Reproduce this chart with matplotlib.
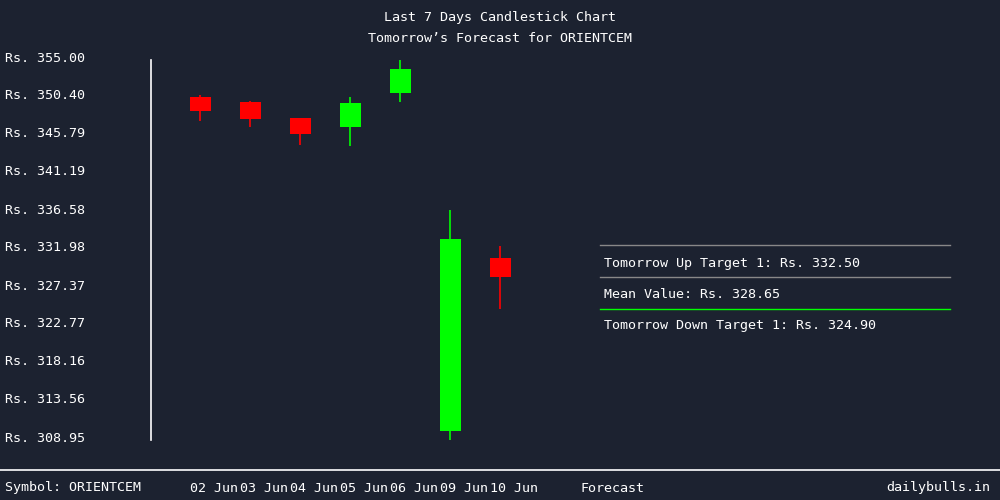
import matplotlib
matplotlib.use("Agg")
import matplotlib.pyplot as plt
from matplotlib.transforms import blended_transform_factory, offset_copy

dates = ["02 Jun", "03 Jun", "04 Jun", "05 Jun", "06 Jun", "09 Jun", "10 Jun"]
opens = [350.27, 349.67, 347.73, 346.64, 350.76, 309.80, 330.76]
closes = [348.58, 347.61, 345.79, 349.55, 353.67, 333.07, 328.46]
highs = [350.52, 349.79, 347.73, 350.27, 354.76, 336.58, 332.22]
lows = [347.37, 346.64, 344.46, 344.34, 349.67, 308.70, 324.58]
yticks = [308.95, 313.56, 318.16, 322.77, 327.37, 331.98, 336.58, 341.19, 345.79, 350.40, 355.00]
forecast_labels = ["Tomorrow Up Target 1: Rs. 332.50", "Mean Value: Rs. 328.65", "Tomorrow Down Target 1: Rs. 324.90"]

BG = "#1c2230"
FONT = "DejaVu Sans Mono"
FS = 9.6
fig = plt.figure(figsize=(10, 5), dpi=100, facecolor=BG)
ax = fig.add_axes([0.15, 62/500, 0.85, 380/500])
ax.set_facecolor(BG)
ax.set_xlim(-1, 16)
ax.set_ylim(yticks[0], yticks[-1])
ax.axis("off")

for i in range(len(dates)):
    up = closes[i] >= opens[i]
    c = "#00ff00" if up else "#ff0000"
    ax.vlines(i, lows[i], highs[i], color=c, lw=1.2, clip_on=False)
    ax.bar(i, abs(closes[i]-opens[i]), bottom=min(opens[i], closes[i]), width=0.42, color=c, clip_on=False)

# y axis line
fig.add_artist(plt.Line2D([150.5/1000]*2, [60/500, 440/500], color="white", lw=1.2))
trans = blended_transform_factory(fig.transFigure, ax.transData)
for v in yticks:
    fig.text(5/1000, v, f"Rs. {v:.2f}", transform=trans, color="white", fontsize=FS, family=FONT, va="center", ha="left")

# x labels
tx = blended_transform_factory(ax.transData, fig.transFigure)
for i, d in enumerate(dates):
    ax.text(i - 0.2, 12/500, d, transform=tx, color="white", fontsize=FS, family=FONT, va="center", ha="left")
fig.text(580/1000, 12/500, "Forecast", color="white", fontsize=FS, family=FONT, va="center", ha="left")
fig.text(5/1000, 12/500, "Symbol: ORIENTCEM", color="white", fontsize=FS, family=FONT, va="center", ha="left")
fig.text(990/1000, 12/500, "dailybulls.in", color="white", fontsize=FS, family=FONT, va="center", ha="right")
fig.add_artist(plt.Line2D([0, 1], [30/500]*2, color="white", lw=1.2))

fig.text(0.5, 482/500, "Last 7 Days Candlestick Chart", color="white", fontsize=FS, family=FONT, ha="center", va="center")
fig.text(0.5, 462/500, "Tomorrow\u2019s Forecast for ORIENTCEM", color="white", fontsize=FS, family=FONT, ha="center", va="center")

# forecast box
for yp, col in [(245, "#888888"), (277, "#888888"), (309, "#00ff00")]:
    fig.add_artist(plt.Line2D([600/1000, 950/1000], [1 - yp/500]*2, color=col, lw=1))
for yp, t in zip([263, 295, 326], forecast_labels):
    fig.text(604/1000, 1 - yp/500, t, color="white", fontsize=FS, family=FONT, va="center", ha="left")

fig.savefig("out.png", facecolor=BG)
